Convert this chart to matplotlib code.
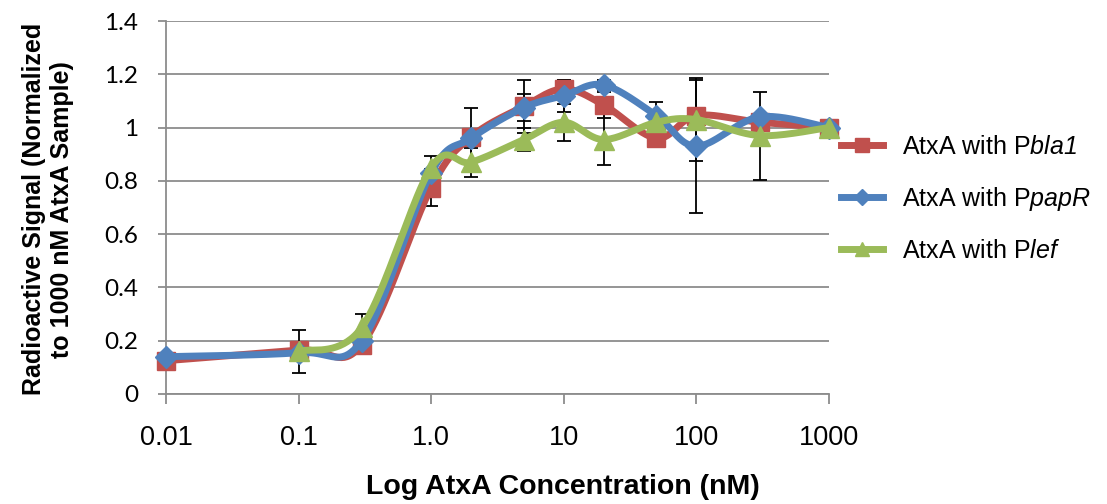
import numpy as np
import matplotlib
matplotlib.use("Agg")
import matplotlib.pyplot as plt
from matplotlib.lines import Line2D

# concentrations (nM)
conc = [0.01, 0.1, 0.3, 1, 2, 5, 10, 20, 50, 100, 300, 1000]
conc_lef = conc[1:]

# normalized radioactive signal
bla1 = [0.125, 0.165, 0.185, 0.775, 0.965, 1.08, 1.145, 1.085, 0.96, 1.045, 1.02, 1.0]
papR = [0.14, 0.155, 0.20, 0.83, 0.96, 1.075, 1.12, 1.16, 1.045, 0.93, 1.04, 1.0]
lef = [0.16, 0.25, 0.85, 0.87, 0.955, 1.02, 0.955, 1.02, 1.03, 0.97, 1.0]

# error bars (0 = none drawn)
bla1_err = [0, 0, 0, 0.068, 0, 0.10, 0.035, 0.05, 0, 0, 0, 0]
papR_err = [0, 0, 0, 0, 0.115, 0.05, 0.06, 0.02, 0.05, 0.25, 0, 0]
lef_err = [0.08, 0.05, 0.045, 0.055, 0.043, 0.07, 0.095, 0, 0.155, 0.165, 0]

xticks = [0.01, 0.1, 1, 10, 100, 1000]
xticklabels = ['0.01', '0.1', '1.0', '10', '100', '1000']
yticks = [0, 0.2, 0.4, 0.6, 0.8, 1, 1.2, 1.4]
yticklabels = ['0', '0.2', '0.4', '0.6', '0.8', '1', '1.2', '1.4']

plt.rcParams['font.family'] = ['Liberation Sans', 'DejaVu Sans']
# math parts are only the italic promoter names (digits included)
plt.rcParams['mathtext.fontset'] = 'custom'
plt.rcParams['mathtext.rm'] = 'Liberation Sans:italic'
plt.rcParams['mathtext.it'] = 'Liberation Sans:italic'


# Excel-like smoothed line (Catmull-Rom bezier in log-x space)
def smooth(xs, ys, n=40):
    u = np.log10(np.array(xs, dtype=float))
    v = np.array(ys, dtype=float)
    P = np.column_stack([u, v])
    P = np.vstack([P[0], P, P[-1]])
    out = []
    t = np.linspace(0, 1, n)[:, None]
    for i in range(1, len(P) - 2):
        p0, p1, p2, p3 = P[i - 1], P[i], P[i + 1], P[i + 2]
        c1 = p1 + (p2 - p0) / 6
        c2 = p2 - (p3 - p1) / 6
        seg = ((1 - t) ** 3) * p1 + 3 * ((1 - t) ** 2) * t * c1 + 3 * (1 - t) * t ** 2 * c2 + t ** 3 * p2
        out.append(seg)
    out = np.vstack(out)
    return 10 ** out[:, 0], out[:, 1]


fig = plt.figure(figsize=(11.07, 5.04), dpi=100)
ax = fig.add_axes([166 / 1107, 1 - 394 / 504, (829 - 166) / 1107, (394 - 21) / 504])

series = [
    (conc, bla1, bla1_err, '#C0504D', 's', 13, 'AtxA with P$\\mathit{bla1}$'),
    (conc, papR, papR_err, '#4F81BD', 'D', 11, 'AtxA with P$\\mathit{papR}$'),
    (conc_lef, lef, lef_err, '#9BBB59', '^', 14, 'AtxA with P$\\mathit{lef}$'),
]

handles = []
z = 3
for xs, ys, err, col, mk, ms, lab in series:
    sx, sy = smooth(xs, ys)
    ax.plot(sx, sy, color=col, lw=5, solid_capstyle='round', zorder=z, clip_on=False)
    ax.plot(xs, ys, linestyle='none', marker=mk, ms=ms, color=col, zorder=z + 0.5, clip_on=False)
    ex = [a for a, e in zip(xs, err) if e > 0]
    ey = [b for b, e in zip(ys, err) if e > 0]
    ee = [e for e in err if e > 0]
    ax.errorbar(ex, ey, yerr=ee, fmt='none', ecolor='black', elinewidth=1.3,
                capsize=5, capthick=1.3, zorder=2.5)
    handles.append(Line2D([], [], color=col, lw=5, marker=mk, ms=ms * 0.75, label=lab))
    z += 1

ax.set_xscale('log')
ax.set_xlim(0.01, 1000)
ax.set_ylim(0, 1.4)
ax.set_xticks(xticks)
ax.set_xticklabels(xticklabels, fontsize=19.5)
ax.xaxis.set_minor_locator(matplotlib.ticker.NullLocator())
ax.set_yticks(yticks)
ax.set_yticklabels(yticklabels, fontsize=17.5, family=['Lato', 'DejaVu Sans'])
ax.yaxis.grid(True, color='#8c8c8c', lw=1.3)
ax.set_axisbelow(True)
for s in ['top', 'right']:
    ax.spines[s].set_visible(False)
ax.spines['left'].set_color('#8c8c8c')
ax.spines['bottom'].set_color('#8c8c8c')
ax.spines['left'].set_linewidth(1.3)
ax.spines['bottom'].set_linewidth(1.3)
ax.tick_params(axis='x', color='#8c8c8c', length=7, width=1.3, pad=15)
ax.tick_params(axis='y', color='#8c8c8c', length=6, width=1.3, pad=14)

ax.set_xlabel('Log AtxA Concentration (nM)', fontsize=20.5, fontweight='bold')
ax.xaxis.set_label_coords((563 - 166) / 663, (394 - 474) / 373)
ax.set_ylabel('Radioactive Signal (Normalized\nto 1000 nM AtxA Sample)', fontsize=18,
              fontweight='bold', linespacing=1.2)
ax.yaxis.set_label_coords((74 - 166) / 663, 0.495)

fig.legend(handles=handles, loc='center left', bbox_to_anchor=(818 / 1107, 1 - 199 / 504),
           frameon=False, fontsize=18, handlelength=1.7, labelspacing=1.05, handletextpad=0.75)

fig.savefig('out.png', dpi=100)
